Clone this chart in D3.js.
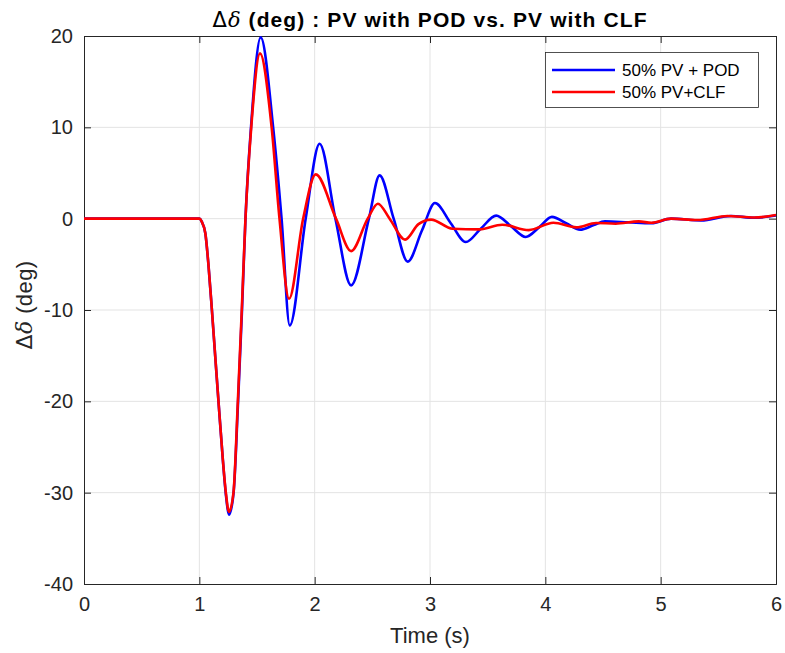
<!DOCTYPE html>
<html>
<head>
<meta charset="utf-8">
<script src="https://cdn.jsdelivr.net/npm/d3@7"></script>
<style>
  html, body { margin: 0; padding: 0; background: #fff; }
  svg { display: block; font-family: "Liberation Sans", Arial, Helvetica, sans-serif; }
</style>
</head>
<body>
<svg id="chart" width="785" height="653"></svg>
<script>
// ---------------- data ----------------
const xTicks = [0, 1, 2, 3, 4, 5, 6];
const yTicks = [20, 10, 0, -10, -20, -30, -40];
const seriesNames = ["50% PV + POD", "50% PV+CLF"];
const seriesColors = ["#0000ff", "#ff0000"];

const podTime = [0, 1.0, 1.02, 1.052, 1.08, 1.109, 1.138, 1.166, 1.204, 1.23, 1.258, 1.297, 1.336, 1.37, 1.40, 1.448, 1.532, 1.64, 1.713, 1.784, 1.922, 2.043, 2.18, 2.316, 2.47, 2.563, 2.685, 2.807, 2.93, 3.043, 3.18, 3.31, 3.44, 3.574, 3.70, 3.83, 3.95, 4.057, 4.18, 4.302, 4.42, 4.517, 4.72, 4.92, 5.09, 5.35, 5.61, 5.81, 6.0];
const podDelta = [0, 0, -0.3, -1.6, -5.2, -10, -15.1, -20, -26.4, -30.2, -32.4, -30, -20, -10, 0, 10, 19.85, 10, 0, -11.7, 0, 8.2, 0, -7.3, 0, 4.74, 0, -4.7, -1.3, 1.71, -0.5, -2.56, -1.1, 0.33, -0.8, -2.0, -0.9, 0.2, -0.5, -1.2, -0.7, -0.3, -0.4, -0.5, 0.0, -0.2, 0.3, 0.1, 0.35];

const clfTime = [0, 1.0, 1.02, 1.052, 1.08, 1.109, 1.138, 1.166, 1.204, 1.23, 1.257, 1.296, 1.334, 1.368, 1.40, 1.45, 1.526, 1.627, 1.695, 1.778, 1.90, 2.009, 2.185, 2.316, 2.46, 2.548, 2.65, 2.784, 2.90, 3.009, 3.195, 3.43, 3.626, 3.856, 4.07, 4.27, 4.44, 4.61, 4.81, 4.92, 5.09, 5.32, 5.58, 5.81, 6.0];
const clfDelta = [0, 0, -0.3, -1.6, -5.2, -10, -15.1, -20, -26.4, -30, -32.1, -30, -20, -10, 0, 10, 18.1, 10, 0, -8.77, 0, 4.85, 0, -3.55, 0, 1.64, 0, -2.3, -0.6, -0.1, -1.1, -1.17, -0.66, -1.25, -0.45, -0.95, -0.47, -0.55, -0.3, -0.45, 0.0, -0.15, 0.3, 0.12, 0.4];

// ---------------- layout ----------------
const svg = d3.select("#chart");
const pLeft = 84, pRight = 776, pTop = 36, pBottom = 584;
const ink = "#262626";

const x = d3.scaleLinear().domain([0, 6]).range([pLeft, pRight]);
const y = d3.scaleLinear().domain([-40, 20]).range([pBottom, pTop]);

// grid
const g = svg.append("g");
g.selectAll(".vg").data(xTicks.slice(1, -1)).enter().append("line")
  .attr("x1", d => x(d)).attr("x2", d => x(d))
  .attr("y1", pTop).attr("y2", pBottom)
  .attr("stroke", "#e3e3e3").attr("stroke-width", 1);
g.selectAll(".hg").data(yTicks.slice(1, -1)).enter().append("line")
  .attr("y1", d => y(d)).attr("y2", d => y(d))
  .attr("x1", pLeft).attr("x2", pRight)
  .attr("stroke", "#e3e3e3").attr("stroke-width", 1);

// axes (ticks inward)
const tickLen = 7;
const xAxisB = d3.axisBottom(x).tickValues(xTicks).tickSize(-tickLen).tickPadding(13).tickFormat(d3.format("d"));
const xAxisT = d3.axisTop(x).tickValues(xTicks).tickSize(-tickLen).tickFormat("");
const yAxisL = d3.axisLeft(y).tickValues(yTicks).tickSize(-tickLen).tickPadding(11).tickFormat(d => d < 0 ? "-" + Math.abs(d) : d);
const yAxisR = d3.axisRight(y).tickValues(yTicks).tickSize(-tickLen).tickFormat("");

function styleAxis(sel) {
  sel.select(".domain").attr("stroke", ink).attr("stroke-width", 1);
  sel.selectAll(".tick line").attr("stroke", ink).attr("stroke-width", 1);
  sel.selectAll(".tick text").attr("fill", ink).attr("font-size", 20)
    .attr("font-family", "'Liberation Sans', Arial, sans-serif");
}
svg.append("g").attr("transform", `translate(0,${pBottom})`).call(xAxisB).call(styleAxis);
svg.append("g").attr("transform", `translate(0,${pTop})`).call(xAxisT).call(styleAxis);
svg.append("g").attr("transform", `translate(${pLeft},0)`).call(yAxisL).call(styleAxis);
svg.append("g").attr("transform", `translate(${pRight},0)`).call(yAxisR).call(styleAxis);

// lines
const line = d3.line().x(d => x(d[0])).y(d => y(d[1])).curve(d3.curveMonotoneX);
const podData = podTime.map((t, i) => [t, podDelta[i]]);
const clfData = clfTime.map((t, i) => [t, clfDelta[i]]);
svg.append("clipPath").attr("id", "clip").append("rect")
  .attr("x", pLeft).attr("y", pTop).attr("width", pRight - pLeft).attr("height", pBottom - pTop);
const lines = svg.append("g").attr("clip-path", "url(#clip)");
lines.append("path").datum(podData).attr("d", line)
  .attr("fill", "none").attr("stroke", seriesColors[0]).attr("stroke-width", 2.6).attr("stroke-linejoin", "round");
lines.append("path").datum(clfData).attr("d", line)
  .attr("fill", "none").attr("stroke", seriesColors[1]).attr("stroke-width", 2.6).attr("stroke-linejoin", "round");

// title
const title = svg.append("text").attr("x", (pLeft + pRight) / 2).attr("y", 27)
  .attr("text-anchor", "middle").attr("font-size", 21).attr("font-weight", "bold")
  .attr("letter-spacing", 1.1).attr("fill", "#000");
title.append("tspan").attr("font-weight", "normal").attr("font-family", "'DejaVu Sans', sans-serif").text("Δ");
title.append("tspan").attr("font-style", "italic").attr("font-weight", "normal").attr("font-family", "'DejaVu Serif', serif").text("δ");
title.append("tspan").text(" (deg) : PV with POD vs. PV with CLF");

// axis labels
svg.append("text").attr("x", (pLeft + pRight) / 2).attr("y", 643)
  .attr("text-anchor", "middle").attr("font-size", 22).attr("fill", ink).text("Time (s)");
const yl = svg.append("text").attr("transform", `translate(32,305) rotate(-90)`)
  .attr("text-anchor", "middle").attr("font-size", 22).attr("letter-spacing", 0.4).attr("fill", ink);
yl.append("tspan").attr("font-family", "'DejaVu Sans', sans-serif").text("Δ");
yl.append("tspan").attr("font-style", "italic").attr("font-family", "'DejaVu Serif', serif").text("δ");
yl.append("tspan").text(" (deg)");

// legend
const lg = svg.append("g");
lg.append("rect").attr("x", 545.5).attr("y", 52.5).attr("width", 213).attr("height", 55)
  .attr("fill", "#fff").attr("stroke", ink).attr("stroke-width", 0.8);
seriesNames.forEach((name, i) => {
  const yy = 70 + i * 22;
  lg.append("line").attr("x1", 552).attr("x2", 615).attr("y1", yy).attr("y2", yy)
    .attr("stroke", seriesColors[i]).attr("stroke-width", 2.6);
  lg.append("text").attr("x", 622).attr("y", yy + 6).attr("font-size", 17).attr("fill", "#000").text(name);
});
</script>
</body>
</html>
